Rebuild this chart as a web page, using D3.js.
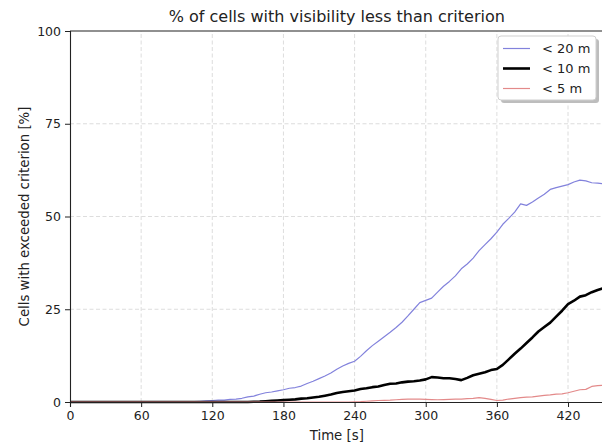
<!DOCTYPE html>
<html>
<head>
<meta charset="utf-8">
<script src="https://cdn.jsdelivr.net/npm/d3@7"></script>
<style>
    body { margin: 0; background: #fff; }
    svg { font-family: "DejaVu Sans", sans-serif; }
</style>
</head>
<body>
<svg id="chart" width="602" height="444"></svg>
<script>
// sample times [s]
const times = [0, 5, 10, 15, 20, 25, 30, 35, 40, 45, 50, 55, 60, 65, 70, 75, 80, 85, 90, 95,
    100, 105, 110, 115, 120, 125, 130, 135, 140, 145, 150, 155, 160, 165, 170, 175, 180, 185, 190, 195,
    200, 205, 210, 215, 220, 225, 230, 235, 240, 245, 250, 255, 260, 265, 270, 275, 280, 285, 290, 295,
    300, 305, 310, 315, 320, 325, 330, 335, 340, 345, 350, 355, 360, 365, 370, 375, 380, 385, 390, 395,
    400, 405, 410, 415, 420, 425, 430, 435, 440, 445, 450];

// % of cells with visibility < 20 m
const below20 = [0, 0, 0, 0, 0, 0, 0, 0, 0, 0, 0, 0, 0, 0, 0, 0, 0, 0, 0, 0,
    0, 0.1, 0.2, 0.3, 0.4, 0.5, 0.5, 0.7, 0.8, 1.0, 1.4, 1.6, 2.1, 2.5, 2.7, 3.0, 3.3, 3.7, 3.9, 4.3,
    5.0, 5.6, 6.3, 7.0, 7.8, 8.8, 9.7, 10.4, 11.0, 12.3, 13.8, 15.2, 16.4, 17.6, 18.8, 20.1, 21.5, 23.2, 25.0, 26.8,
    27.4, 28.0, 29.6, 31.2, 32.5, 34.0, 35.9, 37.2, 38.8, 40.8, 42.4, 44.0, 45.8, 47.9, 49.5, 51.2, 53.4, 53.0, 53.9, 55.0,
    56.0, 57.3, 57.8, 58.2, 58.6, 59.3, 59.8, 59.6, 59.1, 59.0, 58.8];

// % of cells with visibility < 10 m
const below10 = [0, 0, 0, 0, 0, 0, 0, 0, 0, 0, 0, 0, 0, 0, 0, 0, 0, 0, 0, 0,
    0, 0, 0, 0, 0, 0, 0, 0, 0, 0, 0, 0.05, 0.1, 0.2, 0.3, 0.4, 0.5, 0.6, 0.7, 0.9,
    1.0, 1.2, 1.4, 1.7, 2.0, 2.4, 2.7, 2.9, 3.1, 3.5, 3.7, 4.0, 4.2, 4.6, 4.9, 5.0, 5.3, 5.5, 5.6, 5.8,
    6.1, 6.7, 6.6, 6.4, 6.4, 6.2, 5.9, 6.5, 7.2, 7.6, 8.0, 8.6, 8.9, 10.0, 11.5, 13.0, 14.4, 15.9, 17.4, 19.0,
    20.2, 21.4, 23.0, 24.6, 26.4, 27.3, 28.4, 28.8, 29.6, 30.2, 30.7];

// % of cells with visibility < 5 m
const below5 = [0, 0, 0, 0, 0, 0, 0, 0, 0, 0, 0, 0, 0, 0, 0, 0, 0, 0, 0, 0,
    0, 0, 0, 0, 0, 0, 0, 0, 0, 0, 0, 0, 0, 0, 0, 0, 0, 0, 0, 0,
    0, 0, 0, 0, 0, 0, 0, 0, 0.05, 0.1, 0.2, 0.3, 0.4, 0.45, 0.5, 0.6, 0.7, 0.75, 0.8, 0.75,
    0.7, 0.65, 0.6, 0.65, 0.7, 0.75, 0.8, 0.9, 1.0, 1.2, 1.0, 0.7, 0.4, 0.5, 0.8, 1.0, 1.2, 1.3, 1.4, 1.6,
    1.8, 1.9, 2.1, 2.2, 2.5, 2.9, 3.3, 3.4, 4.2, 4.4, 4.5];

const xTicks = [0, 60, 120, 180, 240, 300, 360, 420];
const yTicks = [0, 25, 50, 75, 100];
const seriesNames = ["< 20 m", "< 10 m", "< 5 m"];

const svg = d3.select("#chart");

const x = d3.scaleLinear().domain([0, 450]).range([70, 603.6]);
const y = d3.scaleLinear().domain([0, 100]).range([402, 31]);

// grid
svg.append("g")
    .selectAll("line")
    .data(xTicks.slice(1))
    .enter()
    .append("line")
    .attr("x1", (d) => x(d)).attr("x2", (d) => x(d))
    .attr("y1", y(0)).attr("y2", y(100))
    .attr("stroke", "#d4d4d4")
    .attr("stroke-width", 0.8)
    .attr("stroke-dasharray", "4,2.5");
svg.append("g")
    .selectAll("line")
    .data(yTicks.slice(1, -1))
    .enter()
    .append("line")
    .attr("x1", x(0)).attr("x2", x(450))
    .attr("y1", (d) => y(d)).attr("y2", (d) => y(d))
    .attr("stroke", "#d4d4d4")
    .attr("stroke-width", 0.8)
    .attr("stroke-dasharray", "4,2.5");

// lines
const series = [
    { name: seriesNames[0], values: below20, color: "#8282dc", width: 1.2 },
    { name: seriesNames[1], values: below10, color: "#000000", width: 2.6 },
    { name: seriesNames[2], values: below5, color: "#e38a8a", width: 1.2 },
];

const line = d3.line()
    .x((d) => x(d[0]))
    .y((d) => y(d[1]));

series.forEach((s) => {
    svg.append("path")
        .datum(times.map((t, i) => [t, s.values[i]]))
        .attr("fill", "none")
        .attr("stroke", s.color)
        .attr("stroke-width", s.width)
        .attr("stroke-linejoin", "round")
        .attr("d", line);
});

// axes
const xAxis = svg.append("g")
    .attr("transform", `translate(0,${y(0)})`)
    .call(d3.axisBottom(x).tickValues(xTicks).tickSize(5).tickPadding(4));
const yAxis = svg.append("g")
    .attr("transform", `translate(${x(0)},0)`)
    .call(d3.axisLeft(y).tickValues(yTicks).tickSize(5).tickPadding(4));

[xAxis, yAxis].forEach((a) => {
    a.select(".domain").attr("stroke", "#222").attr("stroke-width", 1.1);
    a.selectAll(".tick line").attr("stroke", "#222");
    a.selectAll(".tick text")
        .attr("fill", "#222")
        .style("font-size", "12.5px")
        .style("font-family", "DejaVu Sans");
});

// top spine
svg.append("line")
    .attr("x1", x(0)).attr("x2", x(450))
    .attr("y1", y(100)).attr("y2", y(100))
    .attr("stroke", "#222").attr("stroke-width", 1.1);

// title and labels
svg.append("text")
    .attr("x", (x(0) + x(450)) / 2)
    .attr("y", 22)
    .attr("text-anchor", "middle")
    .attr("fill", "#222")
    .style("font-size", "16px")
    .text("% of cells with visibility less than criterion");

svg.append("text")
    .attr("x", (x(0) + x(450)) / 2)
    .attr("y", 440)
    .attr("text-anchor", "middle")
    .attr("fill", "#222")
    .style("font-size", "13.3px")
    .text("Time [s]");

svg.append("text")
    .attr("transform", `translate(29,${(y(0) + y(100)) / 2}) rotate(-90)`)
    .attr("text-anchor", "middle")
    .attr("fill", "#222")
    .style("font-size", "13.3px")
    .text("Cells with exceeded criterion [%]");

// legend
const legend = svg.append("g").attr("transform", "translate(498,36)");
legend.append("rect")
    .attr("x", 3).attr("y", 3)
    .attr("width", 98).attr("height", 64)
    .attr("rx", 3)
    .attr("fill", "#bdbdbd");
legend.append("rect")
    .attr("width", 98).attr("height", 64)
    .attr("rx", 3)
    .attr("fill", "#fff")
    .attr("stroke", "#cfcfcf");

series.forEach((s, i) => {
    const row = legend.append("g").attr("transform", `translate(0,${12.5 + i * 20})`);
    row.append("line")
        .attr("x1", 5).attr("x2", 32)
        .attr("stroke", s.color)
        .attr("stroke-width", s.width);
    row.append("text")
        .attr("x", 44)
        .attr("dy", "0.35em")
        .attr("fill", "#222")
        .style("font-size", "13px")
        .text(s.name);
});
</script>
</body>
</html>
